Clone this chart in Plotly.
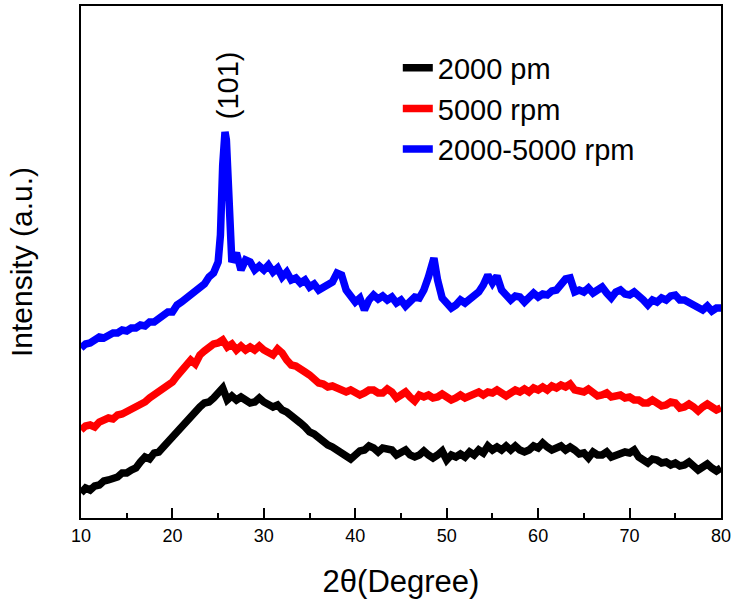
import plotly.graph_objects as go

# 2-theta scan positions (degrees)
two_theta = [10 + 0.5 * i for i in range(141)]

# Intensities (a.u.)
int_2000 = [25, 30, 28, 32, 33, 37, 38, 39, 41, 45, 45, 48, 50, 56, 61, 59, 65, 66, 70, 76,
            81, 86, 93, 98, 101, 108, 111, 115, 116, 120, 125, 130, 118, 122, 118, 121, 118, 115, 116, 120,
            116, 114, 111, 113, 108, 106, 103, 99, 95, 91, 86, 84, 80, 77, 73, 71, 68, 66, 63, 59,
            63, 67, 68, 72, 70, 66, 70, 68, 68, 63, 66, 68, 63, 61, 63, 67, 63, 60, 63, 67,
            58, 63, 61, 64, 61, 66, 63, 68, 65, 72, 68, 71, 68, 72, 68, 72, 68, 66, 68, 72,
            70, 75, 71, 68, 70, 72, 68, 71, 68, 64, 65, 60, 66, 63, 63, 66, 61, 63, 63, 66,
            65, 68, 61, 58, 55, 59, 58, 55, 56, 53, 55, 52, 53, 56, 51, 48, 51, 54, 50, 47, 50]

int_5000 = [88, 92, 93, 91, 96, 98, 100, 99, 103, 104, 106, 108, 110, 114, 116, 120, 123, 126, 131, 133,
            136, 142, 148, 152, 158, 154, 163, 167, 171, 174, 175, 178, 171, 174, 168, 172, 168, 171, 168, 172,
            168, 165, 163, 169, 165, 158, 153, 152, 150, 146, 143, 139, 135, 134, 131, 132, 130, 128, 126, 128,
            125, 123, 125, 128, 128, 125, 125, 129, 126, 120, 123, 126, 121, 117, 123, 121, 123, 120, 121, 124,
            121, 118, 120, 123, 120, 122, 123, 126, 123, 126, 125, 128, 125, 122, 125, 128, 126, 129, 126, 130,
            128, 131, 128, 132, 130, 133, 131, 134, 128, 126, 126, 129, 125, 122, 123, 125, 121, 123, 123, 120,
            121, 118, 118, 115, 115, 118, 115, 112, 113, 116, 115, 110, 111, 114, 111, 107, 111, 114, 111, 108, 110]

two_theta_mix = [10, 10.5, 11, 11.5, 12, 12.5, 13, 13.5, 14, 14.5, 15, 15.5, 16, 16.5, 17, 17.5, 18, 18.5, 19, 19.5,
                 20, 20.5, 21, 21.5, 22, 22.5, 23, 23.5, 24, 24.5, 25, 25.25, 25.5, 25.6, 25.75, 25.9, 26.0, 26.25, 26.5,
                 27, 27.5, 28, 28.5, 29, 29.5, 30, 30.5, 31, 31.5, 32, 32.5, 33, 33.5, 34, 34.5, 35, 35.5, 36, 36.5,
                 37, 37.5, 38, 38.5, 39, 39.5, 40, 40.5, 41, 41.5, 42, 42.5, 43, 43.5, 44, 44.5, 45, 45.5, 46, 46.5,
                 47, 47.5, 48, 48.25, 48.6, 49, 49.5, 50, 50.5, 51, 51.5, 52, 52.5, 53, 53.5, 54, 54.5, 55, 55.5, 56,
                 56.5, 57, 57.5, 58, 58.5, 59, 59.5, 60, 60.5, 61, 61.5, 62, 62.5, 63, 63.5, 64, 64.5, 65, 65.5, 66,
                 66.5, 67, 67.5, 68, 68.5, 69, 69.5, 70, 70.5, 71, 71.5, 72, 72.5, 73, 73.5, 74, 74.5, 75, 75.5, 76,
                 76.5, 77, 77.5, 78, 78.5, 79, 79.5, 80]

int_mix = [170, 174, 175, 178, 181, 180, 183, 185, 185, 188, 187, 190, 190, 193, 192, 196, 196, 200, 202, 206,
           206, 213, 216, 220, 223, 226, 231, 234, 241, 245, 256, 283, 353, 378, 386, 378, 353, 288, 256,
           265, 248, 258, 256, 248, 252, 248, 253, 246, 250, 241, 246, 238, 240, 235, 238, 231, 234, 228, 231,
           232, 236, 245, 243, 228, 222, 216, 220, 208, 218, 223, 219, 222, 218, 221, 215, 218, 212, 218, 221,
           220, 228, 241, 253, 260, 238, 220, 215, 210, 213, 218, 215, 219, 221, 226, 233, 243, 235, 242, 228,
           222, 218, 222, 221, 216, 220, 225, 221, 224, 223, 227, 228, 233, 239, 240, 226, 228, 226, 230, 225,
           228, 231, 225, 220, 226, 228, 224, 223, 226, 223, 218, 213, 218, 216, 220, 218, 222, 223, 218, 218,
           215, 213, 210, 208, 212, 207, 210, 210]

series_names = ["2000 pm", "5000 rpm", "2000-5000 rpm"]
series_colors = ["#000000", "#FF0000", "#0000FF"]

fig = go.Figure()
fig.add_trace(go.Scatter(x=two_theta, y=int_2000, mode="lines", name=series_names[0],
                         line=dict(color=series_colors[0], width=7.5)))
fig.add_trace(go.Scatter(x=two_theta, y=int_5000, mode="lines", name=series_names[1],
                         line=dict(color=series_colors[1], width=7.5)))
fig.add_trace(go.Scatter(x=two_theta_mix, y=int_mix, mode="lines", name=series_names[2],
                         line=dict(color=series_colors[2], width=7.5)))

fig.add_annotation(x=26.1, y=433, xref="x", yref="y", text="(101)", textangle=-90,
                   showarrow=False, font=dict(size=29, color="black"))

font_family = "Liberation Sans, Arial, sans-serif"
fig.update_layout(
    width=733, height=606,
    margin=dict(l=81, r=12, t=6, b=88, autoexpand=False),
    paper_bgcolor="white", plot_bgcolor="white",
    font=dict(family=font_family, color="black"),
    showlegend=True,
    legend=dict(x=0.495, y=0.929, xanchor="left", yanchor="top",
                bgcolor="rgba(0,0,0,0)", font=dict(size=29, color="black"),
                tracegroupgap=0),
    xaxis=dict(range=[10, 80], tickmode="array", tickvals=[10, 20, 30, 40, 50, 60, 70, 80],
               ticks="inside", ticklen=10, tickwidth=2, tickcolor="black",
               minor=dict(tickvals=[15, 25, 35, 45, 55, 65, 75], ticks="inside", ticklen=5,
                          tickwidth=2, tickcolor="black"),
               showline=True, linewidth=2, linecolor="black", mirror=True,
               showgrid=False, zeroline=False, automargin=False,
               tickfont=dict(size=18, color="black"),
               title=dict(text="2θ(Degree)", font=dict(size=31, color="black"), standoff=26)),
    yaxis=dict(range=[0, 512], showticklabels=False, ticks="",
               showline=True, linewidth=2, linecolor="black", mirror=True,
               showgrid=False, zeroline=False, automargin=False,
               title=dict(text="Intensity (a.u.)", font=dict(size=30, color="black"), standoff=38)),
)

fig.write_html("out.html", config={"displayModeBar": False})

# remove the default page margin so the figure fills the window exactly
with open("out.html", "r", encoding="utf-8") as f:
    html = f.read()
html = html.replace("<body>", '<body style="margin:0;overflow:hidden">', 1)
with open("out.html", "w", encoding="utf-8") as f:
    f.write(html)
